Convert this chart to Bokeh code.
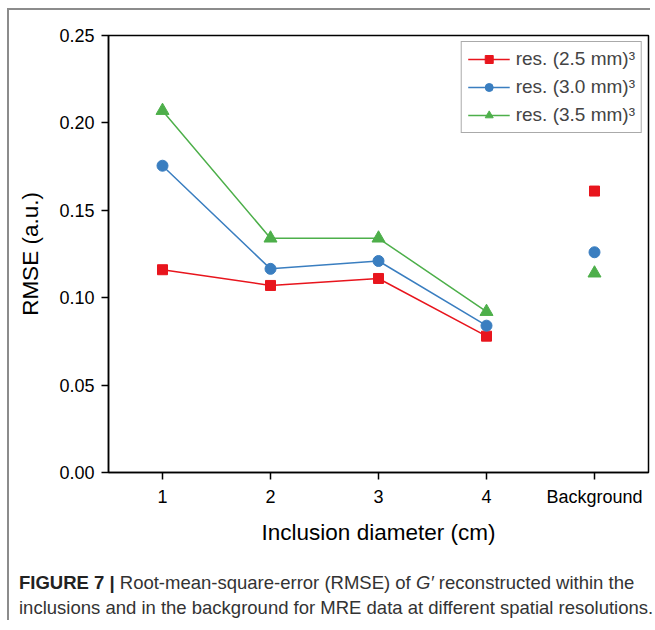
from bokeh.plotting import figure
from bokeh.embed import file_html
from bokeh.resources import INLINE
from bokeh.layouts import column
from bokeh.models import Div, FixedTicker, NumeralTickFormatter, Range1d

# ---- data ----
x_labels = ["1", "2", "3", "4", "Background"]
x_incl = [1, 2, 3, 4]
x_bg = [5]
rmse_25 = [0.116, 0.107, 0.111, 0.078]
rmse_30 = [0.1755, 0.1165, 0.121, 0.084]
rmse_35 = [0.207, 0.134, 0.134, 0.092]
bg_25 = [0.161]
bg_30 = [0.126]
bg_35 = [0.114]
y_ticks = [0.0, 0.05, 0.10, 0.15, 0.20, 0.25]
series_labels = ["res. (2.5 mm)³", "res. (3.0 mm)³", "res. (3.5 mm)³"]

RED, BLUE, GREEN = "#E8151D", "#3A7EC0", "#4DAF4A"
FONT = "Liberation Sans"

p = figure(width=641, height=542, output_backend="svg", toolbar_location=None,
           x_range=Range1d(0.5, 5.5), y_range=Range1d(0, 0.25),
           min_border_left=99, min_border_right=2, min_border_top=25,
           min_border_bottom=80)
p.background_fill_color = "white"
p.border_fill_color = "white"
p.outline_line_color = "black"
p.outline_line_width = 1.5
p.xgrid.visible = False
p.ygrid.visible = False

specs = [(rmse_25, bg_25, RED, "square", 10, series_labels[0]),
         (rmse_30, bg_30, BLUE, "circle", 11, series_labels[1]),
         (rmse_35, bg_35, GREEN, "triangle", 13, series_labels[2])]
for vals, bg, col, mk, sz, lab in specs:
    p.line(x_incl, vals, line_color=col, line_width=1.5, legend_label=lab)
    p.scatter(x_incl, vals, marker=mk, size=sz, fill_color=col, line_color=col,
              legend_label=lab)
    p.scatter(x_bg, bg, marker=mk, size=sz, fill_color=col, line_color=col)

p.xaxis.ticker = FixedTicker(ticks=[1, 2, 3, 4, 5])
p.xaxis.major_label_overrides = {i + 1: s for i, s in enumerate(x_labels)}
p.yaxis.ticker = FixedTicker(ticks=y_ticks)
p.yaxis.formatter = NumeralTickFormatter(format="0.00")

for ax in (p.xaxis[0], p.yaxis[0]):
    ax.axis_line_width = 1.5
    ax.axis_line_color = "black"
    ax.major_tick_line_width = 1.5
    ax.major_tick_in = 0
    ax.major_tick_out = 7
    ax.minor_tick_line_color = None
    ax.major_label_text_font = FONT
    ax.major_label_text_font_size = "18px"
    ax.major_label_text_color = "black"
    ax.axis_label_text_font = FONT
    ax.axis_label_text_font_style = "normal"
    ax.axis_label_text_color = "black"
    ax.major_label_standoff = 7

p.xaxis.axis_label = "Inclusion diameter (cm)"
p.xaxis.axis_label_text_font_size = "22.5px"
p.xaxis.axis_label_standoff = 10
p.yaxis.axis_label = "RMSE (a.u.)"
p.yaxis.axis_label_text_font_size = "22.5px"
p.yaxis.axis_label_standoff = 13

lg = p.legend[0]
lg.location = "top_right"
lg.margin = 6
lg.padding = 6
lg.spacing = 6
lg.glyph_width = 42
lg.glyph_height = 20
lg.label_height = 20
lg.label_standoff = 6
lg.label_text_font = FONT
lg.label_text_font_size = "19px"
lg.border_line_color = "#555555"
lg.border_line_width = 1
lg.background_fill_alpha = 1.0

cap = Div(
    text=('<b style="color:#222">FIGURE 7 |</b> Root-mean-square-error (RMSE) of '
          '<i>G\u2032</i> reconstructed within the<br>'
          'inclusions and in the background for MRE data at different spatial resolutions.'),
    width=630, margin=(18, 0, 0, 10),
    styles={"font-family": "'Liberation Sans', Arial, sans-serif",
            "font-size": "18.5px", "line-height": "25px", "color": "#333333",
            "white-space": "nowrap"})

layout = column(p, cap, spacing=0, margin=(8, 0, 0, 7),
                styles={"border-top": "2px solid #8c8c8c",
                        "border-left": "2px solid #8c8c8c",
                        "background": "white"})

open("out.html", "w").write(file_html(layout, INLINE))
